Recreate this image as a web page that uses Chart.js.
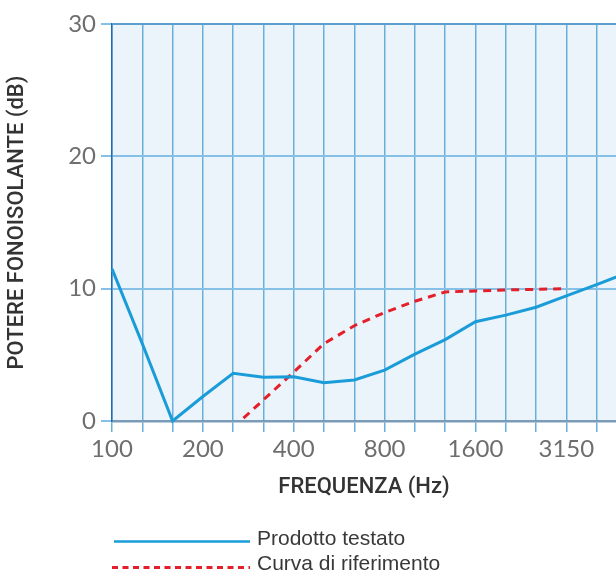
<!DOCTYPE html>
<html>
<head>
<meta charset="utf-8">
<script src="https://cdn.jsdelivr.net/npm/chart.js@4/dist/chart.umd.min.js"></script>
<style>
  html, body { margin: 0; padding: 0; background: #fff; }
  #wrap { position: relative; width: 616px; height: 570px; overflow: hidden; }
  #c { position: absolute; left: 0; top: 0; }
  #legend { position: absolute; left: 0; top: 0; }
</style>
</head>
<body>
<div id="wrap">
  <canvas id="c" width="616" height="570"></canvas>
  <svg id="legend" width="616" height="570"></svg>
</div>
<script>
// Frequencies (1/3 octave bands, Hz)
const frequencies = ['100','125','160','200','250','315','400','500','630','800','1000','1250','1600','2000','2500','3150','4000','5000'];
// Tick labels shown on the x axis
const shownTicks = ['100','200','400','800','1600','3150'];
// Series
const seriesNames = ['Prodotto testato', 'Curva di riferimento'];
const prodottoTestato = [11.5, 5.85, 0.0, 1.85, 3.6, 3.3, 3.35, 2.9, 3.1, 3.85, 5.05, 6.15, 7.5, 8.0, 8.6, 9.45, 10.3, 11.2];
const curvaRiferimento = [null, null, null, null, -0.5, 1.6, 3.7, 5.85, 7.2, 8.2, 9.05, 9.75, 9.83, 9.9, 9.95, 10.0, null, null];
// Y ticks
const yTicks = [0, 10, 20, 30];

const toPoints = arr => arr.map((v, i) => ({ x: i, y: v }));

const bgPlugin = {
  id: 'plotBg',
  beforeDraw(chart) {
    const { ctx, chartArea: a } = chart;
    ctx.save();
    ctx.fillStyle = '#ecf4fb';
    ctx.fillRect(a.left, a.top, a.right - a.left, a.bottom - a.top);
    ctx.restore();
  }
};

const tickFont = { family: 'Lato, "Liberation Sans", sans-serif', size: 24, weight: 400 };
const titleFont = { family: 'Roboto, "Liberation Sans", sans-serif', size: 22, weight: 500 };

new Chart(document.getElementById('c'), {
  type: 'line',
  data: {
    datasets: [
      {
        label: seriesNames[0],
        data: toPoints(prodottoTestato),
        borderColor: '#1a9cd8',
        borderWidth: 3,
        pointRadius: 0,
        tension: 0,
        clip: { left: 2, right: 0, top: 2, bottom: 3 }
      },
      {
        label: seriesNames[1],
        data: toPoints(curvaRiferimento),
        borderColor: '#e3202a',
        borderWidth: 3,
        borderDash: [8, 6],
        pointRadius: 0,
        tension: 0,
        spanGaps: false,
        clip: 0
      }
    ]
  },
  options: {
    responsive: false,
    animation: false,
    devicePixelRatio: 1,
    layout: { padding: { left: 0, right: 0, top: 24, bottom: 65 } },
    plugins: { legend: { display: false }, tooltip: { enabled: false } },
    scales: {
      x: {
        type: 'linear',
        min: 0,
        max: 16.64,
        afterFit(scale) { scale.height = 84; },
        afterBuildTicks(scale) {
          scale.ticks = frequencies.map((f, i) => ({ value: i })).filter(t => t.value <= 16);
        },
        ticks: {
          autoSkip: false,
          maxRotation: 0,
          padding: 3,
          color: '#6e6e6e',
          font: tickFont,
          callback(value) {
            const lab = frequencies[value];
            return shownTicks.includes(lab) ? lab : '';
          }
        },
        grid: {
          color: '#6aafdc',
          lineWidth: 1.5,
          tickLength: 11,
          tickColor: '#6aafdc'
        },
        border: { color: '#7b9cb8', width: 2.5 },
        title: {
          display: true,
          text: 'FREQUENZA (Hz)',
          color: '#333333',
          font: titleFont,
          padding: { top: 0, bottom: 4 }
        }
      },
      y: {
        min: 0,
        max: 30,
        afterFit(scale) { scale.width = 112; },
        afterBuildTicks(scale) {
          scale.ticks = yTicks.map(v => ({ value: v }));
        },
        ticks: {
          padding: 5,
          color: '#6e6e6e',
          font: tickFont
        },
        grid: {
          color: ctx => (ctx.tick && ctx.tick.value === 30) ? '#5c9fcf' : '#86c0e6',
          lineWidth: 2,
          tickLength: 11,
          tickColor: '#86c0e6'
        },
        border: { color: '#1f6cb0', width: 1.5 },
        title: {
          display: true,
          text: 'POTERE FONOISOLANTE (dB)',
          color: '#333333',
          font: titleFont,
          padding: { top: 4, bottom: 0 }
        }
      }
    }
  },
  plugins: [bgPlugin]
});

// Legend (real SVG text), built from the series names
const svgNS = 'http://www.w3.org/2000/svg';
const legend = document.getElementById('legend');
const legendStyles = [
  { color: '#1a9cd8', dash: null, width: 2.5, lineY: 541.5, textY: 544.5 },
  { color: '#e3202a', dash: '6 4.5', width: 3, lineY: 567.5, textY: 569.5 }
];
seriesNames.forEach((name, i) => {
  const s = legendStyles[i];
  const ln = document.createElementNS(svgNS, 'line');
  ln.setAttribute('x1', i === 0 ? 114 : 112);
  ln.setAttribute('x2', 250);
  ln.setAttribute('y1', s.lineY);
  ln.setAttribute('y2', s.lineY);
  ln.setAttribute('stroke', s.color);
  ln.setAttribute('stroke-width', s.width);
  if (s.dash) ln.setAttribute('stroke-dasharray', s.dash);
  legend.appendChild(ln);
  const tx = document.createElementNS(svgNS, 'text');
  tx.setAttribute('x', 257);
  tx.setAttribute('y', s.textY);
  tx.setAttribute('fill', '#383838');
  tx.setAttribute('font-family', 'Liberation Sans, Arial, sans-serif');
  tx.setAttribute('font-size', '21');
  tx.textContent = name;
  legend.appendChild(tx);
});
</script>
</body>
</html>
